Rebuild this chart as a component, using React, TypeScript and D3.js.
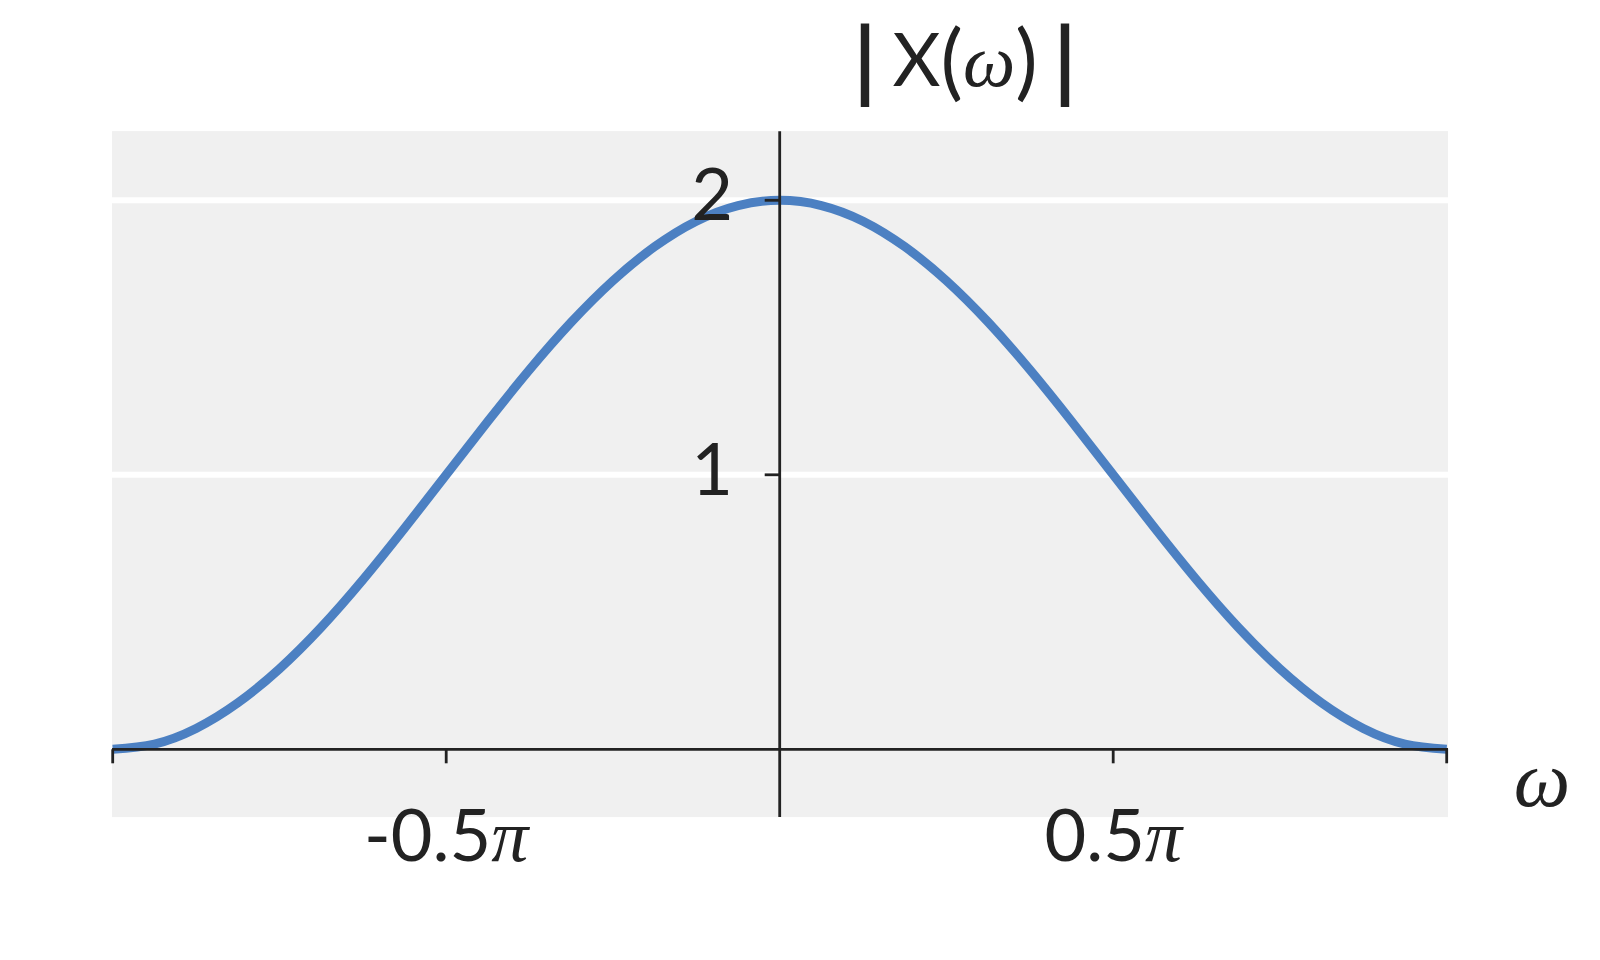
import React from 'react';
import * as d3 from 'd3';

// omega in units of pi, magnitude |X(w)|
const omegaPi = [
  -1, -0.9375, -0.875, -0.8125, -0.75, -0.6875, -0.625, -0.5625, -0.5,
  -0.4375, -0.375, -0.3125, -0.25, -0.1875, -0.125, -0.0625, 0,
  0.0625, 0.125, 0.1875, 0.25, 0.3125, 0.375, 0.4375, 0.5,
  0.5625, 0.625, 0.6875, 0.75, 0.8125, 0.875, 0.9375, 1,
];
const magnitude = [
  0, 0.019, 0.076, 0.169, 0.293, 0.444, 0.617, 0.805, 1.0,
  1.195, 1.383, 1.556, 1.707, 1.831, 1.924, 1.981, 2.0,
  1.981, 1.924, 1.831, 1.707, 1.556, 1.383, 1.195, 1.0,
  0.805, 0.617, 0.444, 0.293, 0.169, 0.076, 0.019, 0,
];
const xTicks = [-1, -0.5, 0.5, 1];
const xTickLabels = ['', '-0.5', '0.5', ''];
const yTicks = [1, 2];
const yTickLabels = ['1', '2'];
const xPanel = [-1.001, 1.002];
const yPanel = [-0.247, 2.252];

const width = 1600;
const height = 960;
const sans = 'Lato, "Open Sans", sans-serif';
const serif = '"Liberation Serif", "DejaVu Serif", serif';

export default function App() {
  const x = d3.scaleLinear().domain([-1, 1]).range([112.7, 1446.7]);
  const y = d3.scaleLinear().domain([0, 2]).range([749.3, 200.3]);

  const line = d3.line<number>()
    .curve(d3.curveNatural)
    .x((d, i) => x(omegaPi[i]))
    .y(d => y(d));

  const ink = '#222222';

  return (
    <svg width={width} height={height}
      style={{ position: 'absolute', left: 0, top: 0, display: 'block', background: '#fff' }}>
      <rect x={x(xPanel[0])} y={y(yPanel[1])}
        width={x(xPanel[1]) - x(xPanel[0])} height={y(yPanel[0]) - y(yPanel[1])}
        fill="#f0f0f0" />
      {yTicks.map(t => (
        <line key={'g' + t} x1={x(xPanel[0])} x2={x(xPanel[1])} y1={y(t)} y2={y(t)}
          stroke="#ffffff" strokeWidth={6} />
      ))}
      <path d={line(magnitude) || ''} fill="none" stroke="#4c80c2" strokeWidth={9}
        strokeLinecap="butt" strokeLinejoin="round" />
      {/* axes through the origin */}
      <line x1={x(xPanel[0])} x2={x(xPanel[1])} y1={y(0)} y2={y(0)} stroke={ink} strokeWidth={2.8} />
      <line x1={x(0)} x2={x(0)} y1={y(yPanel[1])} y2={y(yPanel[0])} stroke={ink} strokeWidth={2.8} />
      {xTicks.map((t, i) => (
        <g key={'x' + t}>
          <line x1={x(t)} x2={x(t)} y1={y(0)} y2={y(0) + 14} stroke={ink} strokeWidth={2.8} />
          {xTickLabels[i] && (
            <text x={x(t)} y={861} textAnchor="middle" fill={ink} fontSize={72} fontFamily={sans}>
              {xTickLabels[i]}
              <tspan fontFamily={serif} fontStyle="italic" fontSize={74}>π</tspan>
            </text>
          )}
        </g>
      ))}
      {yTicks.map((t, i) => (
        <g key={'y' + t}>
          <line x1={x(0) - 15} x2={x(0)} y1={y(t)} y2={y(t)} stroke={ink} strokeWidth={2.8} />
          <text x={733} y={y(t) + 20} textAnchor="end" fill={ink} fontSize={72} fontFamily={sans}>
            {yTickLabels[i]}
          </text>
        </g>
      ))}
      <text x={965} y={86} textAnchor="middle" fill={ink} fontSize={74} fontFamily={sans}>
        <tspan fontSize={88} dy={6} fontWeight="bold">|</tspan>
        <tspan dx={16} dy={-6}>X</tspan>
        <tspan fontSize={84} dy={4}>(</tspan>
        <tspan fontFamily={serif} fontStyle="italic" dy={-4}>ω</tspan>
        <tspan fontSize={84} dy={4}>)</tspan>
        <tspan fontSize={88} dx={16} dy={2} fontWeight="bold">|</tspan>
      </text>
      <text x={1542} y={806} textAnchor="middle" fill={ink} fontSize={80}
        fontFamily={serif} fontStyle="italic">ω</text>
    </svg>
  );
}
